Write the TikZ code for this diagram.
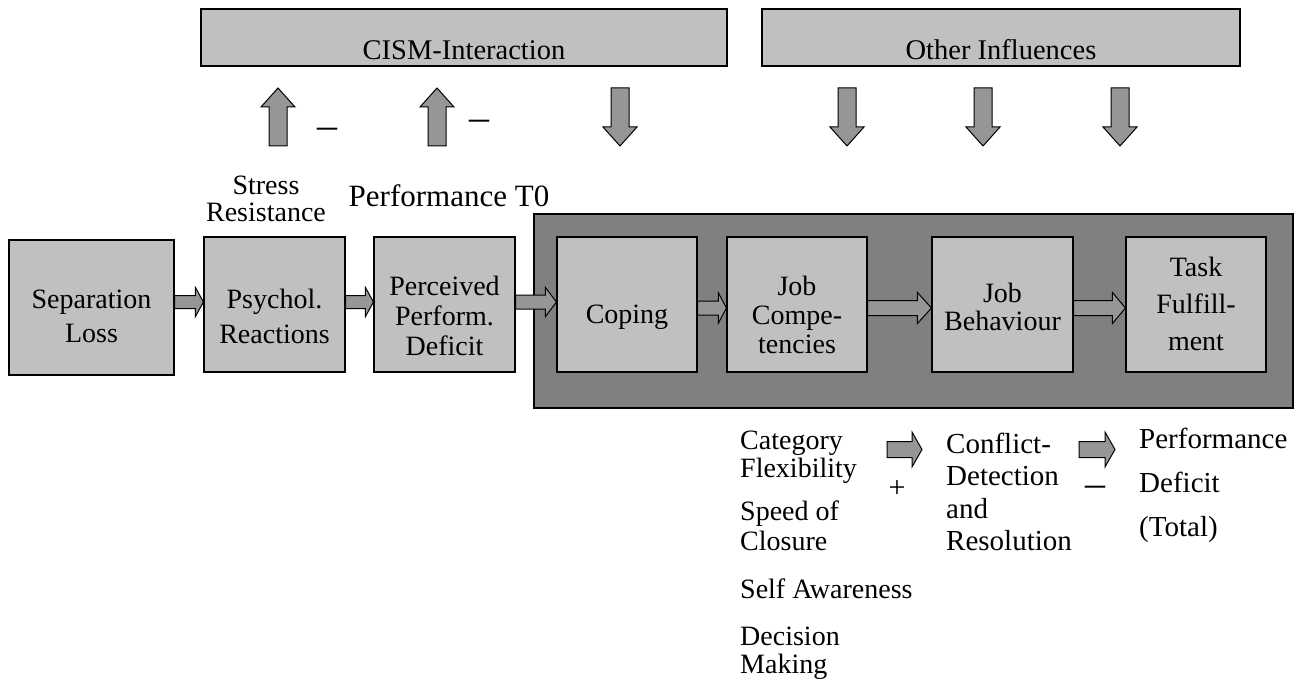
\documentclass[tikz,border=0pt]{standalone}
\usepackage{fontspec}
\setmainfont{Liberation Serif}
\usetikzlibrary{calc}

\definecolor{boxgray}{HTML}{C0C0C0}
\definecolor{framegray}{HTML}{808080}
\definecolor{arrowgray}{HTML}{969696}

% stacked lines: first baseline is the box baseline
\newcommand{\cstack}[3]{\vtop{\let\\\cr\fontsize{#1}{#2}\selectfont\halign{\hfil##\hfil\cr#3\crcr}}}
\newcommand{\lstack}[3]{\vtop{\let\\\cr\fontsize{#1}{#2}\selectfont\halign{##\hfil\cr#3\crcr}}}

% block arrow from #1 to the tip #2; shaft half-width #3, head half-width #4, head length #5
\newcommand{\fatarrow}[5]{%
  \coordinate (fa-base) at ($(#2)!#5!(#1)$);
  \draw[blockarrow]
    ($(#1)!#3!90:(#2)$) -- ($(fa-base)!#3!90:(#2)$) -- ($(fa-base)!#4!90:(#2)$) -- (#2)
    -- ($(fa-base)!#4!-90:(#2)$) -- ($(fa-base)!#3!-90:(#2)$) -- ($(#1)!#3!-90:(#2)$) -- cycle;
}

\tikzset{
  box/.style={draw=black, line width=1.1pt, fill=boxgray, rectangle, inner sep=0pt,
              minimum width=#1, minimum height=135pt},
  hdr/.style={draw=black, line width=1.1pt, fill=boxgray, rectangle, inner sep=0pt,
              minimum width=#1, minimum height=57pt},
  frame/.style={draw=black, line width=1.1pt, fill=framegray, rectangle, inner sep=0pt,
              minimum width=759pt, minimum height=194pt},
  txt/.style={inner sep=0pt, anchor=base},
  ltxt/.style={inner sep=0pt, anchor=base west},
  blockarrow/.style={draw=black, line width=1pt, fill=arrowgray, line join=miter},
}

\begin{document}
\begin{tikzpicture}[x=1pt, y=-1pt]
\useasboundingbox (0,0) rectangle (1300,679);

% header bars
\node[hdr=526pt] (cism) at (464,37.5) {};
\node[hdr=478pt] (other) at (1001,37.5) {};
\node[txt] (cismT) at (464,60) {\fontsize{28.5}{34}\selectfont CISM-Interaction};
\node[txt] (otherT) at (1001,60) {\fontsize{28.5}{34}\selectfont Other Influences};

% influence arrows
\coordinate (u1a) at (278,146); \coordinate (u1b) at (278,88);
\coordinate (u2a) at (437,146); \coordinate (u2b) at (437,88);
\coordinate (d1a) at (620,88);  \coordinate (d1b) at (620,146);
\coordinate (d2a) at (847,88);  \coordinate (d2b) at (847,146);
\coordinate (d3a) at (983,88);  \coordinate (d3b) at (983,146);
\coordinate (d4a) at (1120,88); \coordinate (d4b) at (1120,146);
\fatarrow{u1a}{u1b}{9pt}{17pt}{19pt}
\fatarrow{u2a}{u2b}{9pt}{17pt}{19pt}
\fatarrow{d1a}{d1b}{9pt}{17pt}{19pt}
\fatarrow{d2a}{d2b}{9pt}{17pt}{19pt}
\fatarrow{d3a}{d3b}{9pt}{17pt}{19pt}
\fatarrow{d4a}{d4b}{9pt}{17pt}{19pt}
\node[txt] (m1) at (327.5,139) {\fontsize{40}{40}\selectfont –};
\node[txt] (m2) at (479,131) {\fontsize{40}{40}\selectfont –};

% labels above the first boxes
\node[txt] (stressT) at (266,194) {\cstack{28}{27}{Stress\\Resistance}};
\node[txt] (perfT0) at (449,207) {\fontsize{31}{36}\selectfont Performance T0};

% process chain
\node[box=165pt] (sep) at (91.5,307.5) {};
\node[box=141pt] (psy) at (274.5,304.5) {};
\node[box=141pt] (perc) at (444.5,304.5) {};
\node[frame] (grp) at (913.5,311) {};
\node[box=140pt] (cop) at (627,304.5) {};
\node[box=140pt] (comp) at (797,304.5) {};
\node[box=141pt] (beh) at (1002.5,304.5) {};
\node[box=140pt] (task) at (1196,304.5) {};

\node[txt] (sepT) at (91.5,308) {\cstack{28}{34}{Separation\\Loss}};
\node[txt] (psyT) at (274.5,308) {\cstack{28}{35}{Psychol.\\Reactions}};
\node[txt] (percT) at (444.5,295) {\cstack{28}{30}{Perceived\\Perform.\\Deficit}};
\node[txt] (copT) at (627,323) {\cstack{28}{34}{Coping}};
\node[txt] (compT) at (797,295) {\cstack{28}{29}{Job\\Compe-\\tencies}};
\node[txt] (behT) at (1002.5,302) {\cstack{28}{28}{Job\\Behaviour}};
\node[txt] (taskT) at (1196,276) {\cstack{28}{37}{Task\\Fulfill-\\ment}};

% connectors between the boxes
\coordinate (c1s) at ($(sep.east)+(0,-5.5)$);  \coordinate (c1t) at (c1s -| psy.west);
\coordinate (c2s) at ($(psy.east)+(0,-2.5)$);  \coordinate (c2t) at (c2s -| perc.west);
\coordinate (c3s) at ($(perc.east)+(0,-2.5)$); \coordinate (c3t) at (c3s -| cop.west);
\coordinate (c4s) at ($(cop.east)+(0,3.5)$);   \coordinate (c4t) at (c4s -| comp.west);
\coordinate (c5s) at ($(comp.east)+(0,3.5)$);  \coordinate (c5t) at (c5s -| beh.west);
\coordinate (c6s) at ($(beh.east)+(0,3.5)$);   \coordinate (c6t) at (c6s -| task.west);
\fatarrow{c1s}{c1t}{6.5pt}{14.5pt}{8pt}
\fatarrow{c2s}{c2t}{6.5pt}{14.5pt}{8pt}
\fatarrow{c3s}{c3t}{7pt}{14.5pt}{11pt}
\fatarrow{c4s}{c4t}{7pt}{15pt}{8pt}
\fatarrow{c5s}{c5t}{7.5pt}{15.5pt}{14pt}
\fatarrow{c6s}{c6t}{7.5pt}{15.5pt}{13pt}

% details below the chain
\node[ltxt] (catT) at (740,449) {\lstack{28}{28}{Category\\Flexibility}};
\node[ltxt] (speedT) at (740,520) {\lstack{28}{30}{Speed of\\Closure}};
\node[ltxt] (selfT) at (740,598) {\lstack{28}{28}{Self Awareness}};
\node[ltxt] (decT) at (740,645) {\lstack{28}{28}{Decision\\Making}};
\node[ltxt] (confT) at (946,453) {\lstack{29}{32.5}{Conflict-\\Detection\\and\\Resolution}};
\node[ltxt] (perfT) at (1139,448) {\lstack{29}{44}{Performance\\Deficit\\(Total)}};

\coordinate (b1s) at (887,449.5);  \coordinate (b1t) at (922,449.5);
\coordinate (b2s) at (1079,449.5); \coordinate (b2t) at (1115,449.5);
\fatarrow{b1s}{b1t}{8pt}{17.5pt}{10pt}
\fatarrow{b2s}{b2t}{8pt}{17.5pt}{10pt}
\node[txt] (plus) at (897,497) {\fontsize{30}{30}\selectfont +};
\node[txt] (m3) at (1095.5,496.5) {\fontsize{40}{40}\selectfont –};
\end{tikzpicture}
\end{document}
